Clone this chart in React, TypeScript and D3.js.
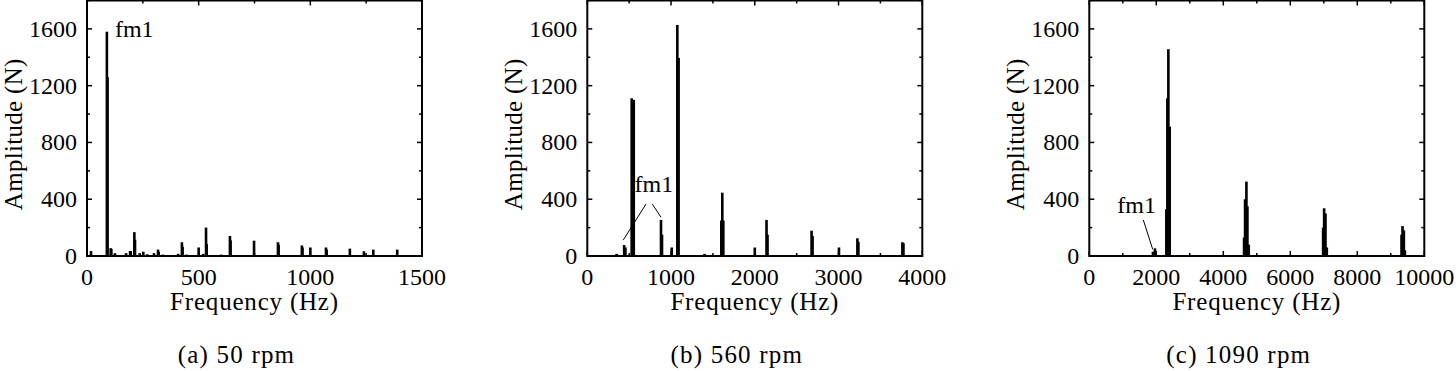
import * as d3 from "d3";

// spectral lines: [frequency Hz, amplitude N]
const peaksA: [number, number][] = [
  [18, 35], [89, 1580], [92, 1260], [106, 55], [109, 50], [125, 20], [175, 20],
  [193, 35], [196, 35], [212, 168], [215, 115], [236, 20], [252, 30], [270, 12],
  [300, 20], [318, 45], [321, 30], [340, 10], [408, 15], [425, 97], [428, 65],
  [445, 10], [500, 60], [520, 15], [533, 200], [536, 85], [601, 10], [640, 141],
  [643, 110], [748, 108], [855, 97], [858, 80], [962, 75], [965, 60], [1000, 60],
  [1070, 60], [1073, 45], [1177, 52], [1240, 33], [1282, 45], [1389, 45],
];
const peaksB: [number, number][] = [
  [350, 15], [440, 77], [455, 60], [530, 1111], [555, 1100], [880, 254], [892, 150],
  [1008, 60], [1075, 1628], [1090, 1396], [1400, 15], [1600, 250], [1612, 446],
  [1624, 250], [2000, 60], [2140, 254], [2152, 150], [2678, 178],
  [2690, 140], [3005, 60], [3225, 125], [3237, 100], [3762, 97], [3775, 90],
];
const peaksC: [number, number][] = [
  [1900, 30], [1960, 54], [2300, 330], [2330, 1111], [2360, 1457], [2400, 911],
  [4620, 130], [4650, 400], [4690, 524], [4720, 350], [4760, 80],
  [6980, 200], [7010, 336], [7050, 300], [7090, 60],
  [9320, 150], [9350, 211], [9390, 180], [9420, 40],
];

const xMaxes = [1500, 4000, 10000];
const xMajor = [500, 1000, 2000];
const captions = ["(a) 50 rpm", "(b) 560 rpm", "(c) 1090 rpm"];
const yTicks = [0, 400, 800, 1200, 1600];
const yMinor = [200, 600, 1000, 1400, 1800];

// fm1 annotations, in data units: text anchor + leader segments
const notes = [
  { text: [125, 1543], anchor: "start", lines: [] as number[][] },
  { text: [795, 451], anchor: "middle", lines: [[430, 113, 701, 366], [776, 366, 880, 273]] },
  { text: [1415, 303], anchor: "middle", lines: [[1612, 254, 1893, 47]] },
];

const boxLefts = [87, 587.3, 1089.3];
const boxW = 335;
const top = 0.5;
const bottom = 256;
const font = "'Liberation Serif', 'Times New Roman', serif";

function Panel({ i, peaks }: { i: number; peaks: [number, number][] }) {
  const left = boxLefts[i];
  const x = d3.scaleLinear().domain([0, xMaxes[i]]).range([left, left + boxW]);
  const y = d3.scaleLinear().domain([0, 1800]).range([bottom, top]);
  const major = d3.range(0, xMaxes[i] + 1, xMajor[i]);
  const minor = d3.range(xMajor[i] / 2, xMaxes[i], xMajor[i]);
  const bw = 2.6;
  const n = notes[i];
  return (
    <g>
      {peaks.map(([f, a], k) => (
        <rect key={k} x={x(f) - bw / 2} y={y(a)} width={bw} height={bottom - y(a)} fill="#000" />
      ))}
      {major.map((t) => (
        <g key={"mx" + t}>
          <line x1={x(t)} x2={x(t)} y1={bottom} y2={bottom - 5} stroke="#000" strokeWidth={1.5} />
          <line x1={x(t)} x2={x(t)} y1={top} y2={top + 5} stroke="#000" strokeWidth={1.5} />
          <text x={x(t)} y={285} textAnchor="middle" fontSize={24} fontFamily={font}>{t}</text>
        </g>
      ))}
      {minor.map((t) => (
        <g key={"nx" + t}>
          <line x1={x(t)} x2={x(t)} y1={bottom} y2={bottom - 3} stroke="#000" strokeWidth={1.5} />
          <line x1={x(t)} x2={x(t)} y1={top} y2={top + 3} stroke="#000" strokeWidth={1.5} />
        </g>
      ))}
      {yTicks.map((t) => (
        <g key={"my" + t}>
          <line x1={left} x2={left + 5} y1={y(t)} y2={y(t)} stroke="#000" strokeWidth={1.5} />
          <line x1={left + boxW} x2={left + boxW - 5} y1={y(t)} y2={y(t)} stroke="#000" strokeWidth={1.5} />
          <text x={left - 10} y={y(t) + 8} textAnchor="end" fontSize={24} fontFamily={font}>{t}</text>
        </g>
      ))}
      {yMinor.map((t) => (
        <g key={"ny" + t}>
          <line x1={left} x2={left + 3} y1={y(t)} y2={y(t)} stroke="#000" strokeWidth={1.5} />
          <line x1={left + boxW} x2={left + boxW - 3} y1={y(t)} y2={y(t)} stroke="#000" strokeWidth={1.5} />
        </g>
      ))}
      <rect x={left} y={top} width={boxW} height={bottom - top} fill="none" stroke="#000" strokeWidth={2} />
      <text x={left + boxW / 2} y={310} textAnchor="middle" fontSize={25} letterSpacing={0.8} fontFamily={font}>Frequency (Hz)</text>
      <text transform={`translate(${left - 65},${(top + bottom) / 2 + 6}) rotate(-90)`} textAnchor="middle" fontSize={25} letterSpacing={0.3} fontFamily={font}>Amplitude (N)</text>
      <text x={x(n.text[0])} y={y(n.text[1])} textAnchor={n.anchor} fontSize={24} fontFamily={font}>fm1</text>
      {n.lines.map((l, k) => (
        <line key={k} x1={x(l[0])} y1={y(l[1])} x2={x(l[2])} y2={y(l[3])} stroke="#000" strokeWidth={1} />
      ))}
      <text x={left + boxW / 2 - 18} y={363} textAnchor="middle" fontSize={25} letterSpacing={1.2} fontFamily={font}>{captions[i]}</text>
    </g>
  );
}

export default function App() {
  const all = [peaksA, peaksB, peaksC];
  return (
    <svg width={1456} height={371} style={{ position: "absolute", left: 0, top: 0, background: "#fff" }}>
      {all.map((p, i) => (
        <Panel key={i} i={i} peaks={p} />
      ))}
    </svg>
  );
}
